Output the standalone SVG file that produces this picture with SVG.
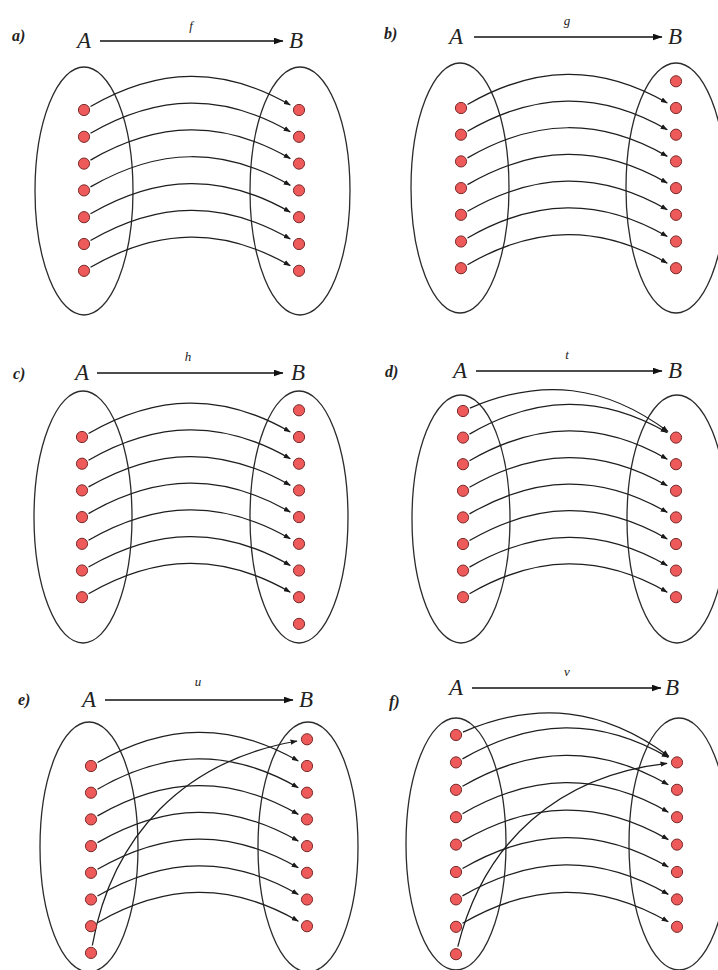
<svg xmlns="http://www.w3.org/2000/svg" width="718" height="970" viewBox="0 0 718 970">
<defs>
<marker id="ah" viewBox="0 0 8 6" refX="7.5" refY="3" markerWidth="7" markerHeight="5.5" markerUnits="userSpaceOnUse" orient="auto">
<path d="M0,0 L8,3 L0,6 Z" fill="#1a1a1a"/>
</marker>
<marker id="hh" viewBox="0 0 10 7" refX="9.5" refY="3.5" markerWidth="10" markerHeight="7" markerUnits="userSpaceOnUse" orient="auto">
<path d="M0,0 L10,3.5 L0,7 Z" fill="#111"/>
</marker>
<style>
.set{fill:none;stroke:#2b2b2b;stroke-width:1.3}
.e{fill:none;stroke:#1e1e1e;stroke-width:1.25;marker-end:url(#ah)}
.hd{fill:none;stroke:#111;stroke-width:1.6;marker-end:url(#hh)}
.d{fill:#ee5a5a;stroke:#7a2a2a;stroke-width:1}
.m{font-family:"Liberation Serif","DejaVu Serif",serif;font-style:italic;font-size:23px;fill:#222}
.fn{font-family:"Liberation Serif","DejaVu Serif",serif;font-style:italic;font-size:13px;fill:#222}
.lb{font-family:"Liberation Serif","DejaVu Serif",serif;font-style:italic;font-weight:bold;font-size:16px;fill:#222}
</style>
</defs>
<rect width="718" height="970" fill="#fff"/>

<!-- Panel a -->
<g id="a-header">
<text class="lb" x="12" y="41">a)</text>
<text class="m" x="77" y="48">A</text>
<line class="hd" x1="100" y1="41" x2="283" y2="41"/>
<text class="fn" x="191" y="30" text-anchor="middle">f</text>
<text class="m" x="289" y="48">B</text>
</g>
<g id="a-setA"><ellipse class="set" cx="84" cy="191" rx="49" ry="124"/></g>
<g id="a-setB"><ellipse class="set" cx="300" cy="191" rx="50" ry="124"/></g>
<g id="a-connectors">
<path class="e" d="M90.5 106.5 c67.8 -39.2 132 -40.7 199.8 -1.5"/>
<path class="e" d="M90.5 133.3 c67.8 -39.2 132 -40.7 199.8 -1.5"/>
<path class="e" d="M90.5 160.1 c67.8 -39.2 132 -40.7 199.8 -1.5"/>
<path class="e" d="M90.5 186.9 c67.8 -39.2 132 -40.7 199.8 -1.5"/>
<path class="e" d="M90.5 213.7 c67.8 -39.2 132 -40.7 199.8 -1.5"/>
<path class="e" d="M90.5 240.5 c67.8 -39.2 132 -40.7 199.8 -1.5"/>
<path class="e" d="M90.5 267.3 c67.8 -39.2 132 -40.7 199.8 -1.5"/>
</g>
<g id="a-elementsA">
<circle class="d" cx="84" cy="110" r="5.6"/><circle class="d" cx="84" cy="136.8" r="5.6"/><circle class="d" cx="84" cy="163.6" r="5.6"/><circle class="d" cx="84" cy="190.4" r="5.6"/><circle class="d" cx="84" cy="217.2" r="5.6"/><circle class="d" cx="84" cy="244" r="5.6"/><circle class="d" cx="84" cy="270.8" r="5.6"/>
</g>
<g id="a-elementsB">
<circle class="d" cx="299" cy="110" r="5.6"/><circle class="d" cx="299" cy="136.8" r="5.6"/><circle class="d" cx="299" cy="163.6" r="5.6"/><circle class="d" cx="299" cy="190.4" r="5.6"/><circle class="d" cx="299" cy="217.2" r="5.6"/><circle class="d" cx="299" cy="244" r="5.6"/><circle class="d" cx="299" cy="270.8" r="5.6"/>
</g>

<!-- Panel b -->
<g id="b-header">
<text class="lb" x="384" y="39">b)</text>
<text class="m" x="449" y="44">A</text>
<line class="hd" x1="474" y1="37" x2="662" y2="37"/>
<text class="fn" x="567" y="25" text-anchor="middle">g</text>
<text class="m" x="668" y="44">B</text>
</g>
<g id="b-setA"><ellipse class="set" cx="460" cy="188" rx="49" ry="125"/></g>
<g id="b-setB"><ellipse class="set" cx="676" cy="188" rx="50" ry="125"/></g>
<g id="b-connectors">
<path class="e" d="M467.5 104.5 c67.8 -39.2 132 -40.7 199.8 -1.5"/>
<path class="e" d="M467.5 131.2 c67.8 -39.2 132 -40.7 199.8 -1.5"/>
<path class="e" d="M467.5 157.9 c67.8 -39.2 132 -40.7 199.8 -1.5"/>
<path class="e" d="M467.5 184.6 c67.8 -39.2 132 -40.7 199.8 -1.5"/>
<path class="e" d="M467.5 211.3 c67.8 -39.2 132 -40.7 199.8 -1.5"/>
<path class="e" d="M467.5 238 c67.8 -39.2 132 -40.7 199.8 -1.5"/>
<path class="e" d="M467.5 264.7 c67.8 -39.2 132 -40.7 199.8 -1.5"/>
</g>
<g id="b-elementsA">
<circle class="d" cx="461" cy="108" r="5.6"/><circle class="d" cx="461" cy="134.7" r="5.6"/><circle class="d" cx="461" cy="161.4" r="5.6"/><circle class="d" cx="461" cy="188.1" r="5.6"/><circle class="d" cx="461" cy="214.8" r="5.6"/><circle class="d" cx="461" cy="241.5" r="5.6"/><circle class="d" cx="461" cy="268.2" r="5.6"/>
</g>
<g id="b-elementsB">
<circle class="d" cx="676" cy="81.3" r="5.6"/><circle class="d" cx="676" cy="108" r="5.6"/><circle class="d" cx="676" cy="134.7" r="5.6"/><circle class="d" cx="676" cy="161.4" r="5.6"/><circle class="d" cx="676" cy="188.1" r="5.6"/><circle class="d" cx="676" cy="214.8" r="5.6"/><circle class="d" cx="676" cy="241.5" r="5.6"/><circle class="d" cx="676" cy="268.2" r="5.6"/>
</g>

<!-- Panel c -->
<g id="c-header">
<text class="lb" x="13" y="379">c)</text>
<text class="m" x="75" y="380">A</text>
<line class="hd" x1="97" y1="373" x2="283" y2="373"/>
<text class="fn" x="188" y="361" text-anchor="middle">h</text>
<text class="m" x="291" y="380">B</text>
</g>
<g id="c-setA"><ellipse class="set" cx="83" cy="517" rx="49" ry="126"/></g>
<g id="c-setB"><ellipse class="set" cx="299" cy="517" rx="49" ry="126"/></g>
<g id="c-connectors">
<path class="e" d="M88.5 433.5 c68.4 -39.5 133.4 -41 201.8 -1.5"/>
<path class="e" d="M88.5 460.2 c68.4 -39.5 133.4 -41 201.8 -1.5"/>
<path class="e" d="M88.5 486.9 c68.4 -39.5 133.4 -41 201.8 -1.5"/>
<path class="e" d="M88.5 513.6 c68.4 -39.5 133.4 -41 201.8 -1.5"/>
<path class="e" d="M88.5 540.3 c68.4 -39.5 133.4 -41 201.8 -1.5"/>
<path class="e" d="M88.5 567 c68.4 -39.5 133.4 -41 201.8 -1.5"/>
<path class="e" d="M88.5 593.7 c68.4 -39.5 133.4 -41 201.8 -1.5"/>
</g>
<g id="c-elementsA">
<circle class="d" cx="82" cy="437" r="5.6"/><circle class="d" cx="82" cy="463.7" r="5.6"/><circle class="d" cx="82" cy="490.4" r="5.6"/><circle class="d" cx="82" cy="517.1" r="5.6"/><circle class="d" cx="82" cy="543.8" r="5.6"/><circle class="d" cx="82" cy="570.5" r="5.6"/><circle class="d" cx="82" cy="597.2" r="5.6"/>
</g>
<g id="c-elementsB">
<circle class="d" cx="299" cy="410.3" r="5.6"/><circle class="d" cx="299" cy="437" r="5.6"/><circle class="d" cx="299" cy="463.7" r="5.6"/><circle class="d" cx="299" cy="490.4" r="5.6"/><circle class="d" cx="299" cy="517.1" r="5.6"/><circle class="d" cx="299" cy="543.8" r="5.6"/><circle class="d" cx="299" cy="570.5" r="5.6"/><circle class="d" cx="299" cy="597.2" r="5.6"/><circle class="d" cx="299" cy="623.9" r="5.6"/>
</g>

<!-- Panel d -->
<g id="d-header">
<text class="lb" x="385" y="377">d)</text>
<text class="m" x="453" y="378">A</text>
<line class="hd" x1="476" y1="371" x2="662" y2="371"/>
<text class="fn" x="567" y="359" text-anchor="middle">t</text>
<text class="m" x="668" y="378">B</text>
</g>
<g id="d-setA"><ellipse class="set" cx="461" cy="519" rx="49" ry="124"/></g>
<g id="d-setB"><ellipse class="set" cx="677" cy="519" rx="50" ry="124"/></g>
<g id="d-connectors">
<path class="e" d="M469.9 408.1 C541.7 377.3 605.5 384.8 668 431.6"/>
<path class="e" d="M469.5 434.1 c67 -38.7 130.8 -40.2 197.8 -1.5"/>
<path class="e" d="M469.5 460.7 c67 -38.7 130.8 -40.2 197.8 -1.5"/>
<path class="e" d="M469.5 487.3 c67 -38.7 130.8 -40.2 197.8 -1.5"/>
<path class="e" d="M469.5 513.9 c67 -38.7 130.8 -40.2 197.8 -1.5"/>
<path class="e" d="M469.5 540.5 c67 -38.7 130.8 -40.2 197.8 -1.5"/>
<path class="e" d="M469.5 567.1 c67 -38.7 130.8 -40.2 197.8 -1.5"/>
<path class="e" d="M469.5 593.7 c67 -38.7 130.8 -40.2 197.8 -1.5"/>
</g>
<g id="d-elementsA">
<circle class="d" cx="463" cy="411" r="5.6"/><circle class="d" cx="463" cy="437.6" r="5.6"/><circle class="d" cx="463" cy="464.2" r="5.6"/><circle class="d" cx="463" cy="490.8" r="5.6"/><circle class="d" cx="463" cy="517.4" r="5.6"/><circle class="d" cx="463" cy="544" r="5.6"/><circle class="d" cx="463" cy="570.6" r="5.6"/><circle class="d" cx="463" cy="597.2" r="5.6"/>
</g>
<g id="d-elementsB">
<circle class="d" cx="676" cy="437.6" r="5.6"/><circle class="d" cx="676" cy="464.2" r="5.6"/><circle class="d" cx="676" cy="490.8" r="5.6"/><circle class="d" cx="676" cy="517.4" r="5.6"/><circle class="d" cx="676" cy="544" r="5.6"/><circle class="d" cx="676" cy="570.6" r="5.6"/><circle class="d" cx="676" cy="597.2" r="5.6"/>
</g>

<!-- Panel e -->
<g id="e-header">
<text class="lb" x="18" y="705">e)</text>
<text class="m" x="82" y="707">A</text>
<line class="hd" x1="105" y1="700" x2="293" y2="700"/>
<text class="fn" x="198" y="686" text-anchor="middle">u</text>
<text class="m" x="299" y="707">B</text>
</g>
<g id="e-setA"><ellipse class="set" cx="89" cy="847" rx="49" ry="125"/></g>
<g id="e-setB"><ellipse class="set" cx="308" cy="847" rx="50" ry="125"/></g>
<g id="e-connectors">
<path class="e" d="M97.5 762.5 c68.1 -39.3 132.7 -40.8 200.8 -1.5"/>
<path class="e" d="M97.5 789.2 c68.1 -39.3 132.7 -40.8 200.8 -1.5"/>
<path class="e" d="M97.5 815.9 c68.1 -39.3 132.7 -40.8 200.8 -1.5"/>
<path class="e" d="M97.5 842.6 c68.1 -39.3 132.7 -40.8 200.8 -1.5"/>
<path class="e" d="M97.5 869.3 c68.1 -39.3 132.7 -40.8 200.8 -1.5"/>
<path class="e" d="M97.5 896 c68.1 -39.3 132.7 -40.8 200.8 -1.5"/>
<path class="e" d="M97.5 922.7 c68.1 -39.3 132.7 -40.8 200.8 -1.5"/>
<path class="e" d="M92.3 945.5 C112.1 833.9 185.5 760.6 297.1 741"/>
</g>
<g id="e-elementsA">
<circle class="d" cx="91" cy="766" r="5.6"/><circle class="d" cx="91" cy="792.7" r="5.6"/><circle class="d" cx="91" cy="819.4" r="5.6"/><circle class="d" cx="91" cy="846.1" r="5.6"/><circle class="d" cx="91" cy="872.8" r="5.6"/><circle class="d" cx="91" cy="899.5" r="5.6"/><circle class="d" cx="91" cy="926.2" r="5.6"/><circle class="d" cx="91" cy="952.9" r="5.6"/>
</g>
<g id="e-elementsB">
<circle class="d" cx="307" cy="739.3" r="5.6"/><circle class="d" cx="307" cy="766" r="5.6"/><circle class="d" cx="307" cy="792.7" r="5.6"/><circle class="d" cx="307" cy="819.4" r="5.6"/><circle class="d" cx="307" cy="846.1" r="5.6"/><circle class="d" cx="307" cy="872.8" r="5.6"/><circle class="d" cx="307" cy="899.5" r="5.6"/><circle class="d" cx="307" cy="926.2" r="5.6"/>
</g>

<!-- Panel f -->
<g id="f-header">
<text class="lb" x="389" y="707">f)</text>
<text class="m" x="449" y="695">A</text>
<line class="hd" x1="472" y1="688" x2="661" y2="688"/>
<text class="fn" x="567" y="676" text-anchor="middle">v</text>
<text class="m" x="665" y="695">B</text>
</g>
<g id="f-setA"><ellipse class="set" cx="456" cy="844" rx="50" ry="126"/></g>
<g id="f-setB"><ellipse class="set" cx="679" cy="844" rx="50" ry="126"/></g>
<g id="f-connectors">
<path class="e" d="M462.9 732.1 C537.5 700 603.9 707.9 669 756.4"/>
<path class="e" d="M462.5 758.9 c69.8 -40.3 136 -41.8 205.8 -1.5"/>
<path class="e" d="M462.5 786.3 c69.8 -40.3 136 -41.8 205.8 -1.5"/>
<path class="e" d="M462.5 813.7 c69.8 -40.3 136 -41.8 205.8 -1.5"/>
<path class="e" d="M462.5 841.1 c69.8 -40.3 136 -41.8 205.8 -1.5"/>
<path class="e" d="M462.5 868.5 c69.8 -40.3 136 -41.8 205.8 -1.5"/>
<path class="e" d="M462.5 895.9 c69.8 -40.3 136 -41.8 205.8 -1.5"/>
<path class="e" d="M462.5 923.3 c69.8 -40.3 136 -41.8 205.8 -1.5"/>
<path class="e" d="M457.8 946.7 C483.9 841.1 558.9 775.6 667.1 763.4"/>
</g>
<g id="f-elementsA">
<circle class="d" cx="456" cy="735" r="5.6"/><circle class="d" cx="456" cy="762.4" r="5.6"/><circle class="d" cx="456" cy="789.8" r="5.6"/><circle class="d" cx="456" cy="817.2" r="5.6"/><circle class="d" cx="456" cy="844.6" r="5.6"/><circle class="d" cx="456" cy="872" r="5.6"/><circle class="d" cx="456" cy="899.4" r="5.6"/><circle class="d" cx="456" cy="926.8" r="5.6"/><circle class="d" cx="456" cy="954.2" r="5.6"/>
</g>
<g id="f-elementsB">
<circle class="d" cx="677" cy="762.4" r="5.6"/><circle class="d" cx="677" cy="789.8" r="5.6"/><circle class="d" cx="677" cy="817.2" r="5.6"/><circle class="d" cx="677" cy="844.6" r="5.6"/><circle class="d" cx="677" cy="872" r="5.6"/><circle class="d" cx="677" cy="899.4" r="5.6"/><circle class="d" cx="677" cy="926.8" r="5.6"/>
</g>
</svg>
